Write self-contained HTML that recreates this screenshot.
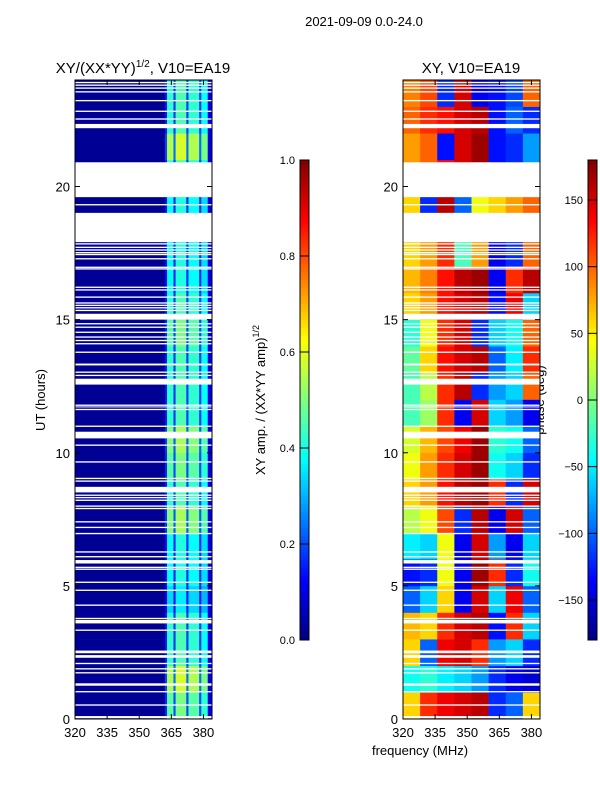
<!DOCTYPE html>
<html><head><meta charset="utf-8"><style>
body{margin:0;background:#fff;}
svg{display:block;font-family:"Liberation Sans","DejaVu Sans",sans-serif;}
</style></head><body>
<svg id="fig" width="600" height="800" viewBox="0 0 600 800" xmlns="http://www.w3.org/2000/svg">
<rect x="0" y="0" width="600" height="800" fill="#fff"/>
<text x="364" y="26" font-size="13" text-anchor="middle">2021-09-09 0.0-24.0</text>
<text x="143" y="73" font-size="15" text-anchor="middle">XY/(XX*YY)<tspan font-size="10" dy="-6">1/2</tspan><tspan dy="6">, V10=EA19</tspan></text>
<text x="471" y="73" font-size="15" text-anchor="middle">XY, V10=EA19</text>
<text transform="translate(45,400) rotate(-90)" font-size="13" text-anchor="middle">UT (hours)</text>
<text x="420" y="755" font-size="13" text-anchor="middle">frequency (MHz)</text>
<text transform="translate(265,400) rotate(-90)" font-size="13" text-anchor="middle">XY amp. / (XX*YY amp)<tspan font-size="9" dy="-6">1/2</tspan></text>
<text transform="translate(544,400) rotate(-90)" font-size="13" text-anchor="middle">phase (deg)</text>
<g id="ampPanel"></g>
<g id="phasePanel"></g>
<g id="cbars"></g>
<g id="axes"></g>
</svg>
<script>
// ---- data ----
const yTicks = [0, 5, 10, 15, 20];
const xTicks = [320, 335, 350, 365, 380];
const ampCbTicks = ["0.0", "0.2", "0.4", "0.6", "0.8", "1.0"];
const phaseCbTicks = [-150, -100, -50, 0, 50, 100, 150];
const ampFreqEdges = [320, 362, 363, 366, 367, 372, 373, 378, 379, 382, 384];
const ampFreqValues = [0.02, 0.15, 0.42, 0.18, 0.45, 0.18, 0.42, 0.18, 0.38, 0.1];
const ampHourScale = [1.1, 1.3, 1.0, 1.0, 0.8, 0.9, 0.9, 1.2, 1.0, 1.1, 1.2, 1.0, 1.0, 1.0, 1.1, 1.0, 0.9, 0.9, 1.0, 0.9, 1.0, 1.3, 1.0, 1.0];
const phaseFreqEdges = [320, 328, 336, 344, 352, 360, 368, 376, 384];
const phaseValues = [
 [60,120,140,150,160,-120,-100,60],
 [-40,-30,-50,-60,-80,-120,-140,-150],
 [60,-100,140,150,120,-80,-60,-120],
 [70,60,120,150,160,-130,120,-60],
 [-100,-60,60,-140,150,-60,140,-100],
 [-130,-120,40,-140,170,120,-120,-40],
 [-50,-60,40,-140,150,-80,-140,-60],
 [20,40,110,-120,160,-140,150,-100],
 [60,80,130,160,170,120,-120,150],
 [40,80,120,150,170,-40,-60,-120],
 [30,70,110,140,170,-30,-40,-100],
 [-20,10,120,-140,150,-60,-80,-140],
 [-20,20,120,160,-120,-80,-60,100],
 [-10,60,130,150,160,-100,-50,120],
 [-30,40,120,150,-120,-60,-40,100],
 [60,80,130,150,160,-130,140,-60],
 [70,90,130,160,170,-140,120,160],
 [60,80,120,-20,80,-140,-120,100],
 [60,80,120,150,160,-130,-120,100],
 [60,-120,160,-100,40,60,80,100],
 [80,100,130,150,170,-130,-120,-80],
 [80,100,-130,150,170,-130,-120,-80],
 [100,120,130,150,160,-130,-100,-120],
 [90,110,-120,150,-140,-130,-110,100]
];
const gapStarts = [0.03,0.50,1.00,1.25,1.71,1.86,2.06,2.30,2.47,3.31,3.59,3.75,4.25,4.81,5.11,5.60,5.67,5.84,6.07,6.25,6.94,7.17,7.38,7.88,7.97,8.19,8.29,8.38,8.51,8.91,9.01,9.63,10.26,10.54,10.97,11.60,11.71,11.76,12.56,12.88,13.00,13.28,13.75,14.07,14.19,14.32,14.50,14.69,14.82,15.00,15.32,15.42,15.51,15.60,15.82,16.09,16.19,16.88,16.94,17.26,17.42,17.49,17.59,17.69,17.82,17.91,19.29,19.60,22.19,22.51,22.80,23.20,23.53,23.67,23.78,23.88];
const gapEnds   = [0.11,0.55,1.05,1.34,1.76,1.91,2.11,2.40,2.57,3.36,3.72,3.80,4.30,4.86,5.16,5.65,5.72,5.97,6.12,6.30,6.99,7.22,7.43,7.93,8.02,8.24,8.34,8.43,8.72,8.96,9.06,9.68,10.31,10.79,11.02,11.65,11.74,11.81,12.78,12.93,13.05,13.35,13.80,14.12,14.24,14.37,14.55,14.74,14.87,15.22,15.37,15.47,15.56,15.65,15.87,16.14,16.24,16.93,16.99,17.31,17.47,17.54,17.64,17.74,17.87,19.01,19.34,20.91,22.35,22.56,22.85,23.25,23.58,23.72,23.83,23.93];

// ---- geometry ----
const NS = "http://www.w3.org/2000/svg";
const yTop = 80, yBot = 719;
const yS = h => yBot - (yBot - yTop) * h / 24;
const ampX0 = 75, phX0 = 403, panelW = 137;
const fS = (x0, f) => x0 + (f - 320) / 64 * panelW;
function jet(t){
  t = Math.max(0, Math.min(1, t));
  const c = v => Math.round(255 * Math.max(0, Math.min(1, v)));
  return `rgb(${c(1.5 - Math.abs(4*t - 3))},${c(1.5 - Math.abs(4*t - 2))},${c(1.5 - Math.abs(4*t - 1))})`;
}
function mk(tag, attrs, parent){
  const e = document.createElementNS(NS, tag);
  for (const k in attrs) e.setAttribute(k, attrs[k]);
  parent.appendChild(e); return e;
}
const amp = document.getElementById('ampPanel');
const ph = document.getElementById('phasePanel');
const cb = document.getElementById('cbars');
const ax = document.getElementById('axes');

for (let h = 0; h < 24; h++) {
  for (let j = 0; j < ampFreqValues.length; j++) {
    const x1 = fS(ampX0, ampFreqEdges[j]), x2 = fS(ampX0, ampFreqEdges[j+1]);
    const v = ampFreqValues[j] > 0.1 ? ampFreqValues[j] * ampHourScale[h] : ampFreqValues[j];
    const r = mk('rect', {x: x1, y: yS(h+1), width: x2 - x1 + 0.3, height: yS(h) - yS(h+1) + 0.3, fill: jet(v)}, amp);
    
    
  }
}
for (let h = 0; h < 24; h++) {
  for (let j = 0; j < phaseValues[h].length; j++) {
    const x1 = fS(phX0, phaseFreqEdges[j]), x2 = fS(phX0, phaseFreqEdges[j+1]);
    const r = mk('rect', {x: x1, y: yS(h+1), width: x2 - x1 + 0.3, height: yS(h) - yS(h+1) + 0.3, fill: jet((phaseValues[h][j] + 180) / 360)}, ph);
    
    
  }
}
for (let i = 0; i < gapStarts.length; i++) {
  [ampX0, phX0].forEach(x0 => {
    const g = mk('rect', {x: x0, y: yS(gapEnds[i]), width: panelW, height: Math.max(1, yS(gapStarts[i]) - yS(gapEnds[i])), fill: '#fff'}, x0 === ampX0 ? amp : ph);
    
    
  });
}
[ampX0, phX0].forEach((x0, pi) => {
  const f = mk('rect', {x: x0, y: yTop, width: panelW, height: yBot - yTop, fill: 'none', stroke: '#000', 'stroke-width': 1}, ax);
  
  
  yTicks.forEach(t => {
    const y = yS(t);
    mk('line', {x1: x0, x2: x0 + 5, y1: y, y2: y, stroke: '#000'}, ax);
    mk('line', {x1: x0 + panelW - 5, x2: x0 + panelW, y1: y, y2: y, stroke: '#000'}, ax);
    const tl = mk('text', {x: x0 - 5, y: y + 5, 'font-size': 13, 'text-anchor': 'end'}, ax);
    tl.textContent = t;
    
    
  });
  xTicks.forEach(t => {
    const x = fS(x0, t);
    mk('line', {x1: x, x2: x, y1: yBot, y2: yBot - 5, stroke: '#000'}, ax);
    mk('line', {x1: x, x2: x, y1: yTop, y2: yTop + 5, stroke: '#000'}, ax);
    const tl = mk('text', {x: x, y: yBot + 18, 'font-size': 13, 'text-anchor': 'middle'}, ax);
    tl.textContent = t;
    
    
  });
});
const cbTop = 160, cbBot = 640;
[[300, 'amp-colorbar'], [588, 'phase-colorbar']].forEach(([x, name]) => {
  for (let i = 0; i < 120; i++) {
    mk('rect', {x: x, y: cbBot - (i + 1) * 4, width: 9, height: 4.3, fill: jet((i + 0.5) / 120)}, cb);
  }
  const fr = mk('rect', {x: x, y: cbTop, width: 9, height: cbBot - cbTop, fill: 'none', stroke: '#000'}, cb);
  
  
});
ampCbTicks.forEach((t, i) => {
  const y = cbBot - (cbBot - cbTop) * i / 5;
  mk('line', {x1: 300, x2: 309, y1: y, y2: y, stroke: '#000'}, cb);
  const tl = mk('text', {x: 295, y: y + 4, 'font-size': 11, 'text-anchor': 'end'}, cb);
  tl.textContent = t;
  
  
});
phaseCbTicks.forEach(t => {
  const y = cbBot - (cbBot - cbTop) * (t + 180) / 360;
  mk('line', {x1: 588, x2: 597, y1: y, y2: y, stroke: '#000'}, cb);
  const tl = mk('text', {x: 583, y: y + 4, 'font-size': 11, 'text-anchor': 'end'}, cb);
  tl.textContent = t < 0 ? '\u2212' + (-t) : t;
  
  
});
</script>
</body></html>
